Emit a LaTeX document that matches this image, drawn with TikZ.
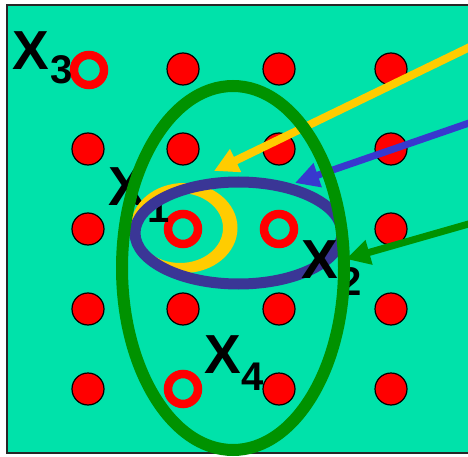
\documentclass[tikz,border=0pt]{standalone}
\usepackage{fontspec}
\setmainfont{Liberation Sans}
\usetikzlibrary{arrows.meta,shapes.geometric}
\definecolor{bg}{RGB}{0,226,170}
\definecolor{dotred}{RGB}{255,0,0}
\definecolor{ygold}{RGB}{255,204,0}
\definecolor{bblue}{RGB}{58,54,150}
\definecolor{ablue}{RGB}{56,56,206}
\definecolor{ggreen}{RGB}{0,146,0}
\tikzset{
  dot/.style={circle, minimum size=32pt, inner sep=0pt, draw=black, line width=1.2pt, fill=dotred},
  ring/.style={circle, minimum size=30pt, inner sep=0pt, draw=dotred, line width=8.5pt},
  bigx/.style={anchor=base west, inner sep=0pt, font=\fontsize{55}{55}\selectfont\bfseries},
  subx/.style={anchor=base west, inner sep=0pt, font=\fontsize{40}{40}\selectfont\bfseries},
  arr/.style={-{Triangle[length=24pt,width=24pt]}},
}
\begin{document}
\begin{tikzpicture}[x=1pt,y=-1pt]
\useasboundingbox (0,0) rectangle (468,457);
\fill[white] (0,0) rectangle (468,457);
\fill[bg] (7,5) rectangle (472,453);
\draw[line width=2.5pt, black!85] (472,5) -- (7,5) -- (7,453) -- (472,453);
% filled dots
\foreach \c/\x in {2/183,3/279,4/391}{\node[dot] (d1\c) at (\x,69) {};}
\foreach \c/\x in {1/88,2/183,3/279,4/391}{\node[dot] (d2\c) at (\x,149) {};}
\foreach \c/\x in {1/88,4/391}{\node[dot] (d3\c) at (\x,229) {};}
\foreach \c/\x in {1/88,2/183,3/279,4/391}{\node[dot] (d4\c) at (\x,309) {};}
\foreach \c/\x in {1/88,3/279,4/391}{\node[dot] (d5\c) at (\x,389) {};}
% open rings
\node[ring] (r3) at (89,70) {};
\node[ring] (r1) at (183,229) {};
\node[ring] (r2) at (279,229) {};
\node[ring] (r4) at (183,389) {};
% label X1
\node[bigx] (lx1) at (108,205) {X};
\node[subx] (ls1) at (147,222) {1};
% yellow crescent
\fill[ygold, even odd rule] (184,228) ellipse [x radius=53.5pt, y radius=45pt]
      (180,228) ellipse [x radius=43pt, y radius=35pt];
% blue ellipse
\node[ellipse, draw=bblue, line width=11pt, minimum width=207pt, minimum height=102pt, inner sep=0pt] (be) at (238.5,233) {};
% labels
\node[bigx] (lx2) at (301,278) {X};
\node[subx] (ls2) at (339,295) {2};
\node[bigx] (lx3) at (12,70) {X};
\node[subx] (ls3) at (50,84) {3};
\node[bigx] (lx4) at (204,373) {X};
\node[subx] (ls4) at (241,390) {4};
% arrows
\coordinate (ys) at (472,46);
\coordinate (yt) at (214,171);
\coordinate (bs) at (472,122);
\coordinate (bt) at (295,183);
\coordinate (gs) at (472,223);
\coordinate (gt) at (346,259);
\draw[arr, ygold, line width=8pt] (ys) -- (yt);
\draw[arr, ablue, line width=7pt] (bs) -- (bt);
\draw[arr, ggreen, line width=7pt] (gs) -- (gt);
% green ellipse
\node[ellipse, draw=ggreen, line width=12pt, minimum width=222pt, minimum height=364pt, inner sep=0pt] (ge) at (233,268) {};
\end{tikzpicture}
\end{document}
